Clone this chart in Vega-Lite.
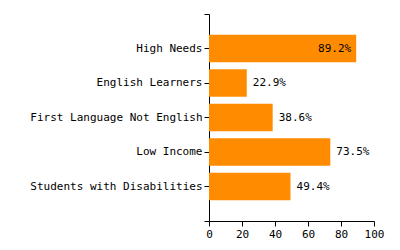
{
  "$schema": "https://vega.github.io/schema/vega-lite/v6.json",
  "autosize": {"type": "none"},
  "width": 165,
  "height": 207,
  "padding": {"left": 209, "top": 14, "right": 26, "bottom": 29},
  "background": "white",
  "config": {
    "view": {"stroke": null},
    "axis": {
      "labelFont": "DejaVu Sans Mono",
      "labelFontSize": 11,
      "labelColor": "black",
      "domainColor": "black",
      "tickColor": "black",
      "tickSize": 5,
      "grid": false,
      "title": null
    }
  },
  "data": {
    "values": [
      {"group": "High Needs", "value": 89.2},
      {"group": "English Learners", "value": 22.9},
      {"group": "First Language Not English", "value": 38.6},
      {"group": "Low Income", "value": 73.5},
      {"group": "Students with Disabilities", "value": 49.4}
    ]
  },
  "transform": [{"calculate": "format(datum.value, '.1f') + '%'", "as": "label"}],
  "resolve": {"scale": {"y": "independent"}, "axis": {"y": "independent"}},
  "layer": [
    {
      "encoding": {
        "y": {
          "field": "group",
          "type": "nominal",
          "sort": null,
          "scale": {"paddingInner": 0.2, "paddingOuter": 0.6},
          "axis": {"labelPadding": 2, "labelFont": "DejaVu Sans Mono", "labelFontSize": 11, "labelLimit": 300}
        },
        "x": {
          "field": "value",
          "type": "quantitative",
          "scale": {"domain": [0, 100], "nice": false},
          "axis": {"values": [0, 20, 40, 60, 80, 100], "labelPadding": 2, "labelFlush": false, "labelFont": "DejaVu Sans Mono", "labelFontSize": 11}
        }
      },
      "layer": [
        {"mark": {"type": "bar", "color": "#ff8c00"}},
        {
          "transform": [{"filter": "datum.value > 80"}],
          "mark": {"type": "text", "align": "right", "dx": -5, "font": "DejaVu Sans Mono", "fontSize": 11, "color": "black"},
          "encoding": {"text": {"field": "label", "type": "nominal"}}
        },
        {
          "transform": [{"filter": "datum.value <= 80"}],
          "mark": {"type": "text", "align": "left", "dx": 6, "font": "DejaVu Sans Mono", "fontSize": 11, "color": "black"},
          "encoding": {"text": {"field": "label", "type": "nominal"}}
        }
      ]
    },
    {
      "mark": {"type": "rule", "opacity": 0},
      "encoding": {
        "y": {
          "datum": 0,
          "type": "quantitative",
          "scale": {"domain": [0, 1], "nice": false},
          "axis": {"orient": "left", "values": [0, 1], "labels": false, "domain": false, "tickSize": 5, "offset": 0}
        }
      }
    }
  ]
}
